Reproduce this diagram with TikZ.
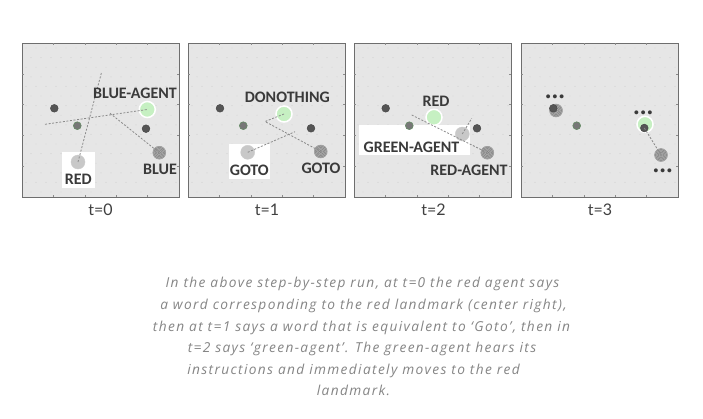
\documentclass[tikz,border=0pt]{standalone}
\usepackage{fontspec}
\setmainfont{Lato}
\newfontfamily\labfont{Carlito}
\newfontfamily\capfont{Open Sans}[LetterSpace=10]
\definecolor{panelbg}{HTML}{E6E6E6}
\definecolor{panelline}{HTML}{6E6E6E}
\definecolor{griddot}{HTML}{C6C6C6}
\definecolor{labtext}{HTML}{3A3A3A}
\definecolor{captext}{HTML}{858585}
\definecolor{dashgray}{HTML}{8A8A8A}
\definecolor{agentgreen}{HTML}{C6F0C2}
\definecolor{darkdot}{HTML}{555555}
\definecolor{midgray}{HTML}{777777}
\definecolor{lightlm}{HTML}{C8C8C8}
\definecolor{stripe}{HTML}{ADADAD}
\tikzset{
  lab/.style={font=\labfont\bfseries\fontsize{16}{17}\selectfont, text=labtext, inner sep=0pt},
  tlab/.style={font=\fontsize{16}{18}\selectfont, text=black!75, inner sep=0pt},
  capline/.style={font=\capfont\itshape\fontsize{13.7}{16}\selectfont, text=captext, inner sep=0pt, anchor=base},
  link/.style={draw=dashgray, line width=0.8pt, dash pattern=on 2pt off 1.6pt},
  whitebox/.style={fill=white, draw=none},
  darkdotst/.style={circle, fill=darkdot, draw=darkdot!80!black, line width=0.4pt, minimum size=7.8pt, inner sep=0pt},
  smallagent/.style={circle, fill=midgray, draw=green!15!midgray, line width=0.6pt, minimum size=7.8pt, inner sep=0pt},
  greenagent/.style={circle, fill=agentgreen, draw=white, line width=1.5pt, minimum size=16pt, inner sep=0pt},
  redlm/.style={circle, fill=lightlm, draw=lightlm!90!white, line width=0.4pt, minimum size=14pt, inner sep=0pt},
  striped/.style={circle, fill=stripe, draw=stripe!85!black, line width=0.4pt, minimum size=13pt, inner sep=0pt},
  ellip/.style={font=\fontsize{9}{9}\selectfont\bfseries, text=labtext, inner sep=0pt},
}
\newcommand{\drawpanel}[2]{%
  \fill[panelbg] (#1,#2) rectangle ++(157,154);
  \foreach \i in {0,...,15} {
    \foreach \j in {0,...,15} {
      \pgfmathsetmacro{\xx}{#1+4+\i*10+mod(\j,2)*5}
      \pgfmathsetmacro{\yy}{#2+5+\j*9.6}
      \ifdim\xx pt<\numexpr#1+155\relax pt
        \fill[griddot] (\xx,\yy) circle (0.45);
      \fi
    }
  }
  \draw[panelline, line width=1pt] (#1,#2) rectangle ++(157,154);
  \foreach \k in {1,2,3,4} {
    \draw[panelline!80, line width=0.6pt] (#1+\k*31.4,#2) -- ++(0,2.2);
    \draw[panelline!80, line width=0.6pt] (#1+\k*31.4,#2+154) -- ++(0,-2.2);
    \draw[panelline!80, line width=0.6pt] (#1,#2+\k*30.8) -- ++(2.2,0);
    \draw[panelline!80, line width=0.6pt] (#1+157,#2+\k*30.8) -- ++(-2.2,0);
  }
}
\newcommand{\stripes}[1]{%
  \foreach \r in {1.4,2.8,4.2,5.6} {\draw[stripe!70!black, line width=0.35pt] (#1) circle (\r);}
}
\begin{document}
\begin{tikzpicture}[x=1pt,y=-1pt]
\useasboundingbox (0,0) rectangle (703,418);
\fill[white] (0,0) rectangle (703,418);
% panels
\drawpanel{22}{43}
\drawpanel{188}{43}
\drawpanel{354}{43}
\drawpanel{521}{43}

% ---------- panel t=0
\fill[whitebox] (62,152) rectangle (95,188);
\node[darkdotst] (p0d1) at (54.3,108.3) {};
\node[smallagent] (p0a1) at (77.3,125.7) {};
\node[darkdotst] (p0d2) at (146,128.7) {};
\node[striped] (p0s) at (159.3,152.7) {};
\stripes{p0s}
\node[redlm] (p0r) at (78,162) {};
\node[greenagent] (p0g) at (147.3,109.5) {};
\coordinate (p0e1) at (101.7,71.7);
\coordinate (p0e2) at (45,124.3);
\coordinate (p0e3) at (110,113.3);
\draw[link] (p0r.center) -- (p0e1);
\draw[link] (p0e2) -- (p0g.center);
\draw[link] (p0e3) -- (p0s.center);
\node[lab] (p0l1) at (135,93.3) {BLUE-AGENT};
\node[lab] (p0l2) at (78.3,179) {RED};
\node[lab] (p0l3) at (160,169.7) {BLUE};
\node[tlab] (t0) at (100.5,210) {t=0};

% ---------- panel t=1
\fill[whitebox] (228.5,143.5) rectangle (270,178.5);
\node[darkdotst] (p1d1) at (220,108.3) {};
\node[smallagent] (p1a1) at (243.3,125.7) {};
\node[darkdotst] (p1d2) at (311,128.3) {};
\node[striped] (p1s) at (320.7,151.5) {};
\stripes{p1s}
\node[redlm] (p1r) at (247.7,152.3) {};
\node[greenagent] (p1g) at (284,114) {};
\coordinate (p1e1) at (265,121.5);
\coordinate (p1e2) at (295,131.7);
\draw[link] (p1g.center) -- (p1e1) -- (p1s.center);
\draw[link] (p1r.center) -- (p1e2);
\node[lab] (p1l1) at (287.3,97.7) {DONOTHING};
\node[lab] (p1l2) at (249.3,170) {GOTO};
\node[lab] (p1l3) at (321,168.3) {GOTO};
\node[tlab] (t1) at (267,210) {t=1};

% ---------- panel t=2
\fill[whitebox] (358.5,125) rectangle (470,155);
\node[darkdotst] (p2d1) at (385.7,108.3) {};
\node[smallagent] (p2a1) at (409.3,125.7) {};
\node[darkdotst] (p2d2) at (477,128.3) {};
\node[striped] (p2s) at (487.3,152.7) {};
\stripes{p2s}
\node[redlm] (p2r) at (462.3,134) {};
\node[greenagent] (p2g) at (434,117.3) {};
\coordinate (p2e1) at (411.7,115);
\coordinate (p2e2) at (471.7,118.3);
\draw[link] (p2e1) -- (p2s.center);
\draw[link] (p2r.center) -- (p2e2);
\node[lab] (p2l1) at (436,101.7) {RED};
\node[lab] (p2l2) at (411.5,147.3) {GREEN-AGENT};
\node[lab] (p2l3) at (469,170) {RED-AGENT};
\node[tlab] (t2) at (433.5,210) {t=2};

% ---------- panel t=3
\node[striped] (p3s1) at (556,110.5) {};
\stripes{p3s1}
\node[darkdotst] (p3d1) at (553.3,108.3) {};
\node[smallagent] (p3a1) at (576.7,125.7) {};
\node[greenagent] (p3g) at (645,124.3) {};
\node[darkdotst] (p3d2) at (644.3,128) {};
\node[striped] (p3s2) at (661,155) {};
\stripes{p3s2}
\draw[link] (p3d2.center) -- (p3s2.center);
\node[ellip] (p3x1) at (555,97.3) {\textbullet\,\textbullet\,\textbullet};
\node[ellip] (p3x2) at (643.3,112.7) {\textbullet\,\textbullet\,\textbullet};
\node[ellip] (p3x3) at (662.7,171.3) {\textbullet\,\textbullet\,\textbullet};
\node[tlab] (t3) at (600,210) {t=3};

% ---------- caption
\node[capline] (c1) at (362.5,287) {In the above step-by-step run, at t=0 the red agent says};
\node[capline] (c2) at (363.5,309) {a word corresponding to the red landmark (center right),};
\node[capline] (c3) at (361.5,331) {then at t=1 says a word that is equivalent to ‘Goto’, then in};
\node[capline] (c4) at (362,352.5) {t=2 says ‘green-agent’. The green-agent hears its};
\node[capline] (c5) at (353.5,374) {instructions and immediately moves to the red};
\node[capline] (c6) at (353.5,395) {landmark.};
\end{tikzpicture}
\end{document}
